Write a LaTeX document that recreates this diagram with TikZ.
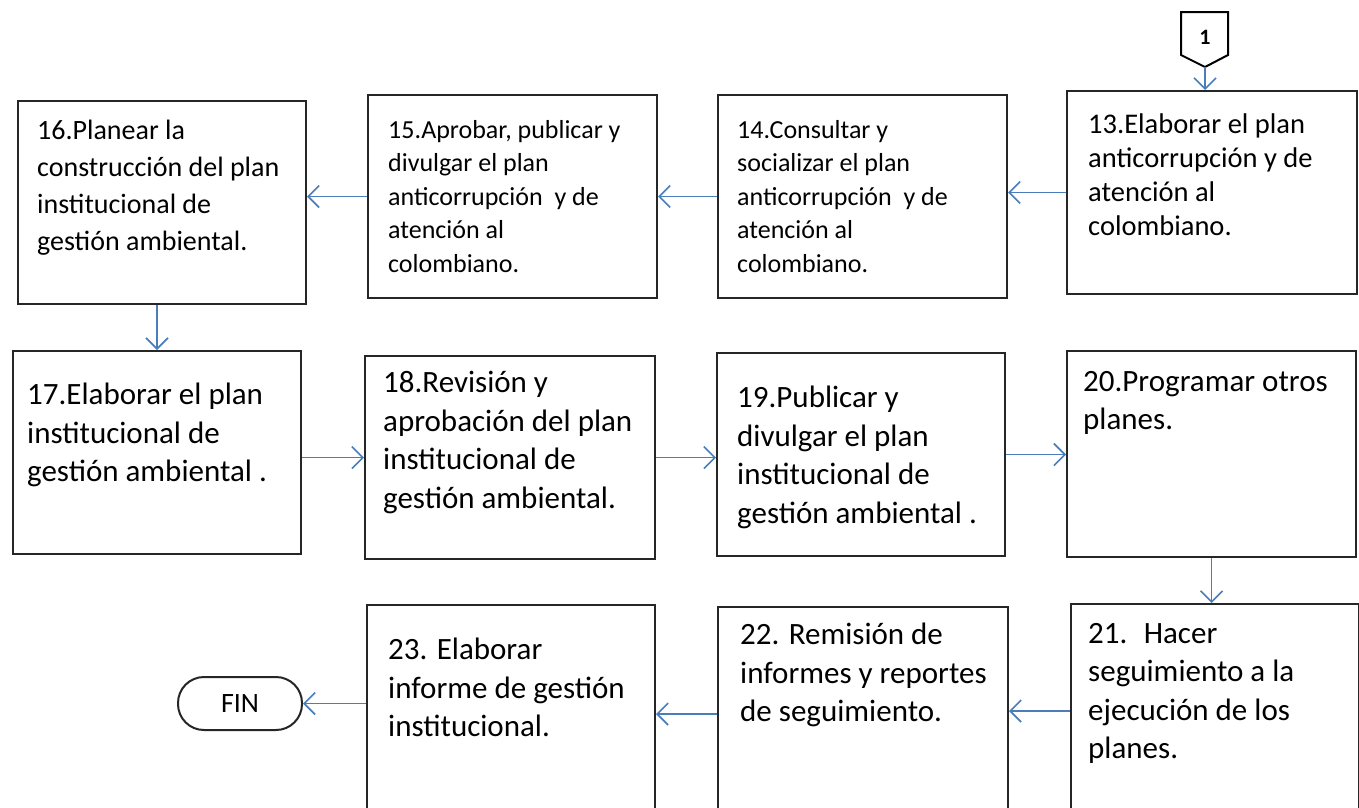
\documentclass[tikz,border=0pt]{standalone}
\usepackage{fontspec}
\setmainfont{Carlito}
\usetikzlibrary{arrows.meta}
\definecolor{flowblue}{RGB}{74,126,187}
\tikzset{
box/.style={draw=black!85, line width=2pt, anchor=north west, inner sep=0pt}, % the step boxes
txt/.style={anchor=north west, inner sep=0pt, align=left}, % text inside a box, top left
small/.style={font=\fontsize{26}{33.5}\selectfont}, % first row
big/.style={font=\fontsize{31}{38.5}\selectfont}, % second and third row
flow/.style={draw=flowblue, line width=1.6pt, -{Straight Barb[length=11pt,width=22pt,line width=1.6pt]}}, % blue connectors
}
\begin{document}
\begin{tikzpicture}[x=1pt,y=-1pt]
		\clip (0,0) rectangle (1359,807);
		% off page connector
		\draw[line width=2pt] (1181,12) -- (1228,12) -- (1228,55) -- (1205,67) -- (1181,55) -- cycle;
		\node[font=\fontsize{22}{26}\bfseries] (c1) at (1205,37) {1};
		\coordinate (c1tip) at (1205,67);
		% first row
		\node[box, minimum width=290pt, minimum height=203pt] (s13) at (1066,90) {};
		\node[box, minimum width=289pt, minimum height=203pt] (s14) at (717,94) {};
		\node[box, minimum width=289pt, minimum height=203pt] (s15) at (367,94) {};
		\node[box, minimum width=288pt, minimum height=203pt] (s16) at (17,100) {};
		\node[txt, font=\fontsize{28.5}{33.7}\selectfont] (t13) at (1088,114) {13.Elaborar el plan\\anticorrupción y de\\atención al\\colombiano.};
		\node[txt, small] (t14) at (737,120) {14.Consultar y\\socializar el plan\\anticorrupción \ y de\\atención al\\colombiano.};
		\node[txt, small] (t15) at (388,120) {15.Aprobar, publicar y\\divulgar el plan\\anticorrupción \ y de\\atención al\\colombiano.};
		\node[txt, font=\fontsize{28}{37}\selectfont] (t16) at (37,120) {16.Planear la\\construcción del plan\\institucional de\\gestión ambiental.};
		% second row
		\node[box, minimum width=288pt, minimum height=203pt] (s17) at (12,350) {};
		\node[box, minimum width=290pt, minimum height=203pt] (s18) at (364,355) {};
		\node[box, minimum width=288pt, minimum height=203pt] (s19) at (716,352) {};
		\node[box, minimum width=289pt, minimum height=206pt] (s20) at (1066,350) {};
		\node[txt, big] (t17) at (27,383) {17.Elaborar el plan\\institucional de\\gestión ambiental .};
		\node[txt, big] (t18) at (383,371) {18.Revisión y\\aprobación del plan\\institucional de\\gestión ambiental.};
		\node[txt, big] (t19) at (737,386) {19.Publicar y\\divulgar el plan\\institucional de\\gestión ambiental .};
		\node[txt, big] (t20) at (1083,371) {20.Programar otros\\planes.};
		% third row, cut by the page edge
		\node[box, minimum width=288pt, minimum height=214pt] (s21) at (1070,603) {};
		\node[box, minimum width=290pt, minimum height=214pt] (s22) at (717,606) {};
		\node[box, minimum width=288pt, minimum height=214pt] (s23) at (366,604) {};
		\node[txt, big] (t21) at (1088,623) {21. \ Hacer\\seguimiento a la\\ejecución de los\\planes.};
		\node[txt, big] (t22) at (740,623) {22. Remisión de\\informes y reportes\\de seguimiento.};
		\node[txt, big] (t23) at (388,638) {23. Elaborar\\informe de gestión\\institucional.};
		\node[draw=black!85, line width=2pt, rounded corners=26pt, minimum width=124pt, minimum height=53pt, inner sep=0pt, font=\fontsize{28}{32}\selectfont] (fin) at (240,703.5) {FIN};
		% connectors
		\draw[flow] (c1tip) -- (c1tip |- s13.north);
		\draw[flow] (s13.west) -- (s13.west -| s14.east);
		\draw[flow] (s14.west) -- (s14.west -| s15.east);
		\draw[flow] (s15.west) -- (s15.west -| s16.east);
		\draw[flow] (s17.north |- s16.south) -- (s17.north);
		\draw[flow] (s18.west -| s17.east) -- (s18.west);
		\draw[flow] (s18.east) -- (s18.east -| s19.west);
		\draw[flow] (s19.east) -- (s19.east -| s20.west);
		\draw[flow] (s20.south) -- (s20.south |- s21.north);
		\draw[flow] (s21.west) -- (s21.west -| s22.east);
		\draw[flow] (s22.west) -- (s22.west -| s23.east);
		\draw[flow] (fin.east -| s23.west) -- (fin.east);
\end{tikzpicture}
\end{document}
